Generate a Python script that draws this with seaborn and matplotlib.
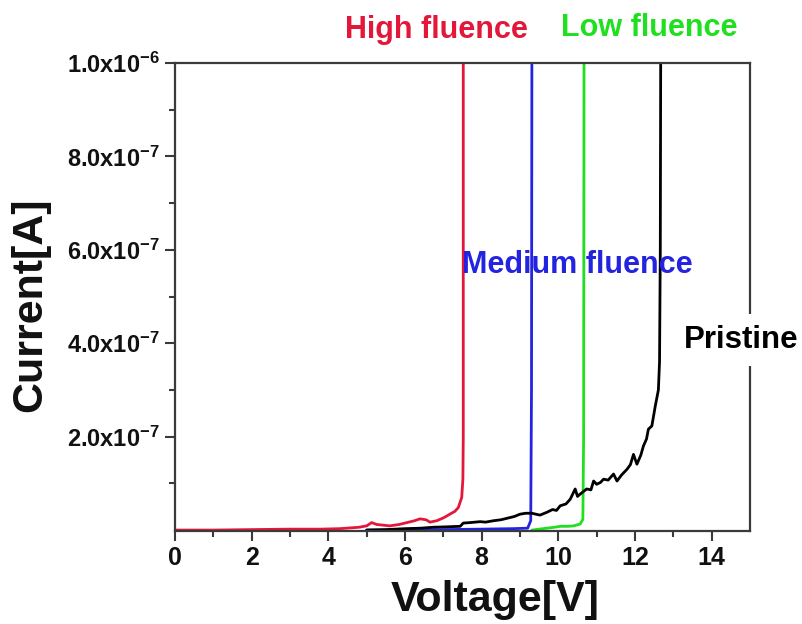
import numpy as np
import pandas as pd
import matplotlib
matplotlib.use("Agg")
import matplotlib.pyplot as plt
import seaborn as sns

# ---------------- data ----------------
high_v = [0.0, 1.0, 2.0, 3.0, 3.8, 4.3, 4.8, 5.0, 5.13, 5.26, 5.6, 5.85, 6.05, 6.25, 6.39, 6.55,
          6.65, 6.83, 7.0, 7.17, 7.3, 7.39, 7.48, 7.51, 7.52, 7.52]
high_i = [0.0, 0.0, 0.1e-8, 0.2e-8, 0.2e-8, 0.3e-8, 0.6e-8, 0.9e-8, 1.6e-8, 1.2e-8, 0.9e-8, 1.2e-8,
          1.6e-8, 2.0e-8, 2.4e-8, 2.2e-8, 1.7e-8, 2.0e-8, 2.6e-8, 3.4e-8, 4.0e-8, 4.8e-8, 7.0e-8,
          1.09e-7, 2.0e-7, 1.0e-6]

medium_v = [5.0, 6.0, 7.0, 8.0, 8.8, 9.2, 9.28, 9.30, 9.31]
medium_i = [0.0, 0.0, 0.1e-8, 0.2e-8, 0.3e-8, 0.4e-8, 2.0e-8, 3.0e-7, 1.0e-6]

low_v = [9.31, 9.5, 9.7, 9.9, 10.05, 10.25, 10.4, 10.57, 10.64, 10.66, 10.67]
low_i = [0.0, 0.2e-8, 0.4e-8, 0.6e-8, 0.8e-8, 0.8e-8, 0.9e-8, 1.3e-8, 2.3e-8, 2.0e-7, 1.0e-6]

pristine_v = [5.0, 5.5, 6.0, 6.4, 6.73, 7.1, 7.44, 7.52, 7.7, 7.96, 8.1, 8.31, 8.5, 8.7, 8.85,
              9.0, 9.15, 9.31, 9.52, 9.7, 9.85, 9.95, 10.05, 10.2, 10.31, 10.44, 10.5, 10.57,
              10.74, 10.85, 10.92, 11.0, 11.1, 11.18, 11.3, 11.44, 11.53, 11.65, 11.79, 11.88,
              11.96, 12.05, 12.15, 12.22, 12.3, 12.35, 12.44, 12.53, 12.61, 12.64, 12.66, 12.67]
pristine_i = [0.0, 0.1e-8, 0.3e-8, 0.4e-8, 0.6e-8, 0.7e-8, 0.8e-8, 1.5e-8, 1.6e-8, 1.8e-8, 1.7e-8,
              2.0e-8, 2.2e-8, 2.6e-8, 2.9e-8, 3.4e-8, 3.6e-8, 3.6e-8, 3.2e-8, 3.8e-8, 4.4e-8,
              4.2e-8, 5.2e-8, 5.6e-8, 6.6e-8, 8.8e-8, 7.2e-8, 7.7e-8, 8.8e-8, 8.6e-8, 1.05e-7,
              9.8e-8, 1.02e-7, 1.09e-7, 1.07e-7, 1.2e-7, 1.05e-7, 1.18e-7, 1.3e-7, 1.4e-7,
              1.62e-7, 1.41e-7, 1.6e-7, 1.8e-7, 1.95e-7, 2.16e-7, 2.23e-7, 2.66e-7, 3.0e-7,
              3.6e-7, 6.0e-7, 1.0e-6]

series_names = ["High fluence", "Medium fluence", "Low fluence", "Pristine"]
series_colors = ["#e3173a", "#2323e0", "#1fe01f", "#000000"]

x_ticks = [0, 2, 4, 6, 8, 10, 12, 14]
y_ticks = [2.0e-7, 4.0e-7, 6.0e-7, 8.0e-7, 1.0e-6]
y_tick_labels = ["2.0x10$^{-7}$", "4.0x10$^{-7}$", "6.0x10$^{-7}$", "8.0x10$^{-7}$", "1.0x10$^{-6}$"]

# ---------------- build table ----------------
frames = []
for name, v, i in zip(series_names, [high_v, medium_v, low_v, pristine_v],
                      [high_i, medium_i, low_i, pristine_i]):
    frames.append(pd.DataFrame({"Voltage": v, "Current": i, "Sample": name}))
df = pd.concat(frames, ignore_index=True)

sns.set_theme(style="white")
plt.rcParams['font.family'] = ['Liberation Sans', 'DejaVu Sans']
plt.rcParams['font.weight'] = 'bold'
plt.rcParams['mathtext.fontset'] = 'custom'
plt.rcParams['mathtext.rm'] = 'Liberation Sans:bold'
plt.rcParams['mathtext.it'] = 'Liberation Sans:bold'
plt.rcParams['mathtext.bf'] = 'Liberation Sans:bold'
plt.rcParams['mathtext.default'] = 'bf'

fig = plt.figure(figsize=(8.03, 6.24), dpi=100)
ax = fig.add_axes([175 / 803, 1 - 531 / 624, 575 / 803, 468 / 624])

sns.lineplot(data=df, x="Voltage", y="Current", hue="Sample", hue_order=series_names,
             palette=series_colors, sort=False, estimator=None, units="Sample",
             linewidth=2.0, legend=False, ax=ax)

ax.set_xlim(0, 15)
ax.set_ylim(-0.002e-6, 1.0e-6)

ax.set_xticks(x_ticks)
ax.set_xticklabels([str(t) for t in x_ticks])
ax.set_xticks(np.arange(1, 15, 2), minor=True)
ax.set_yticks(y_ticks)
ax.set_yticklabels(y_tick_labels)
ax.set_yticks([1e-7, 3e-7, 5e-7, 7e-7, 9e-7], minor=True)

spine_col = "#3a3a3a"
for s in ax.spines.values():
    s.set_color(spine_col)
    s.set_linewidth(1.6)
ax.tick_params(axis="both", which="major", direction="out", length=7, width=1.5,
               color=spine_col, labelsize=17, pad=4, labelcolor="#111111")
ax.tick_params(axis="x", which="major", labelsize=18)
ax.tick_params(axis="both", which="minor", direction="out", length=4, width=1.5,
               color=spine_col)
ax.tick_params(top=False, right=False, which="both", bottom=True, left=True)

ax.set_xlabel("Voltage[V]", fontsize=31, fontweight="bold", color="#111111")
ax.xaxis.label.set_va("center")
ax.xaxis.set_label_coords(0.557, -0.147)
ax.set_ylabel("Current[A]", fontsize=31, fontweight="bold", color="#111111")
ax.yaxis.label.set_va("center")
ax.yaxis.set_label_coords(-0.252, 0.483)

ax.text(0.455, 1.070, "High fluence", transform=ax.transAxes, color=series_colors[0],
        fontsize=22, fontweight="bold", ha="center", va="center", clip_on=False)
ax.text(0.824, 1.075, "Low fluence", transform=ax.transAxes, color=series_colors[2],
        fontsize=22, fontweight="bold", ha="center", va="center", clip_on=False)
ax.text(0.699, 0.568, "Medium fluence", transform=ax.transAxes, color=series_colors[1],
        fontsize=22, fontweight="bold", ha="center", va="center", clip_on=False)
ax.text(0.984, 0.408, "Pristine", transform=ax.transAxes, color="#000000",
        fontsize=22.5, fontweight="bold", ha="center", va="center", clip_on=False,
        bbox=dict(facecolor="white", edgecolor="none", pad=8), zorder=5)

fig.savefig("out.png", dpi=100)
